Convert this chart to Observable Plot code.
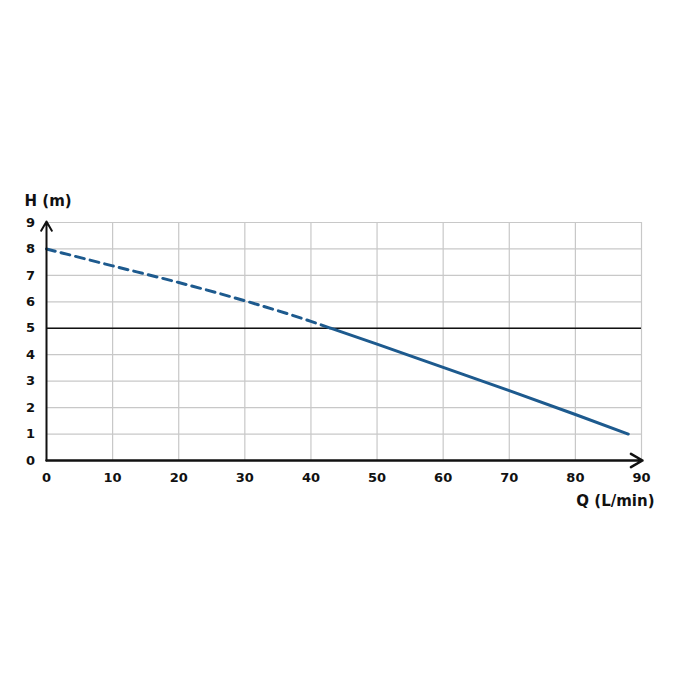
<!DOCTYPE html>
<html><head><meta charset="utf-8">
<script src="https://cdn.jsdelivr.net/npm/d3@7"></script>
<script src="https://cdn.jsdelivr.net/npm/@observablehq/plot@0.6"></script>
<style>body{margin:0;background:#fff;font-family:"DejaVu Sans", sans-serif;}</style>
</head><body><div id="chart"></div>
<script>
const xTicks = [0,10,20,30,40,50,60,70,80,90];
const yTicks = [0,1,2,3,4,5,6,7,8,9];
const curveQ = [0, 10, 20, 30, 40, 43, 50, 60, 70, 80, 88];
const curveH = [8.0, 7.36, 6.73, 6.04, 5.26, 5.0, 4.4, 3.52, 2.64, 1.74, 1.0];
const splitQ = 43;
const refH = 5;

const pts = curveQ.map((q,i)=>({q, h: curveH[i]}));
const dashed = pts.filter(d=>d.q<=splitQ);
const solid = pts.filter(d=>d.q>=splitQ);

const chart = Plot.plot({
  width: 675, height: 675,
  marginLeft: 46, marginRight: 34, marginTop: 222, marginBottom: 215,
  x: {domain: [0,90]},
  y: {domain: [0,9]},
  style: {fontFamily: "'DejaVu Sans', sans-serif", fontSize: "13px", fontWeight: "bold", color: "#111"},
  marks: [
    Plot.ruleX(xTicks.filter(t=>t>0), {stroke: "#c8c8c8", strokeWidth: 1.2, y1: 0, y2: 9}),
    Plot.ruleY(yTicks.filter(t=>t>0), {stroke: "#c8c8c8", strokeWidth: 1.2, x1: 0, x2: 90}),
    Plot.ruleY([refH], {stroke: "#111", strokeWidth: 1.6}),
    Plot.line(dashed, {x: "q", y: "h", stroke: "#1d5a8e", strokeWidth: 3, strokeDasharray: "9,6", curve: "monotone-x"}),
    Plot.line(solid, {x: "q", y: "h", stroke: "#1d5a8e", strokeWidth: 3, curve: "monotone-x"}),
    Plot.arrow([{x1:0,y1:0,x2:0,y2:9}], {x1:"x1",y1:"y1",x2:"x2",y2:"y2", stroke:"#111", strokeWidth:2, headLength:8, insetEnd: -1}),
    Plot.arrow([{x1:0,y1:0,x2:90,y2:0}], {x1:"x1",y1:"y1",x2:"x2",y2:"y2", stroke:"#111", strokeWidth:2.5, headLength:8, insetEnd: -1}),
    Plot.axisX(xTicks, {tickSize: 0, tickPadding: 12, fontSize: 13, fontWeight: "bold", label: null}),
    Plot.axisY(yTicks, {tickSize: 0, tickPadding: 10, fontSize: 13, fontWeight: "bold", textAnchor: "middle", dx: -6, label: null}),
    Plot.text(["H (m)"], {x: 0, y: 9, dy: -21, dx: -22, text: d=>d, textAnchor: "start", fontSize: 15, fontWeight: "bold", fill: "#111"}),
    Plot.text(["Q (L/min)"], {x: 90, y: 0, dy: 41, dx: 13, text: d=>d, textAnchor: "end", fontSize: 15, fontWeight: "bold", fill: "#111"})
  ]
});
document.getElementById("chart").appendChild(chart);
</script></body></html>
